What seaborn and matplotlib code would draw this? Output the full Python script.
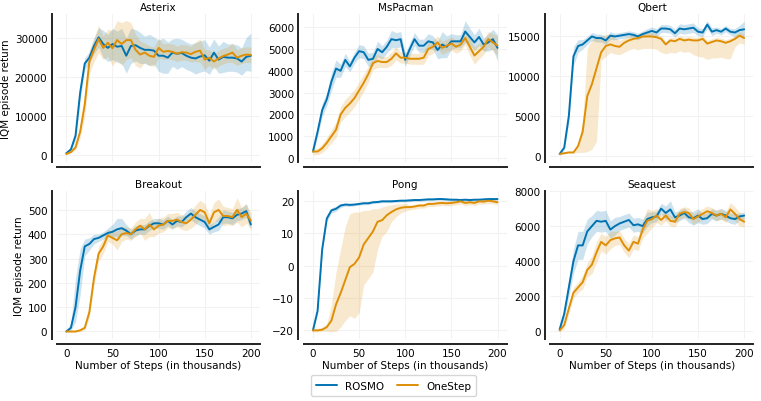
import numpy as np
import pandas as pd
import matplotlib
matplotlib.use("Agg")
import matplotlib.pyplot as plt
import seaborn as sns

steps = list(range(0, 201, 5))
methods = ["ROSMO", "OneStep"]
games = ["Asterix", "MsPacman", "Qbert", "Breakout", "Pong", "Seaquest"]

# ---------------- Asterix ----------------
asterix_rosmo = [500, 1500, 5000, 16000, 23500, 25000, 28000, 30200, 28500, 27500,
                 28500, 27800, 28000, 25500, 28000, 28200, 27500, 27000, 27000, 26800,
                 25500, 25500, 25000, 26300, 26000, 26200, 25500, 25000, 24800, 25300,
                 25600, 24200, 26300, 24500, 25200, 25000, 25000, 24800, 24000, 25200, 25500]
asterix_rosmo_dn = [200, 500, 1200, 2000, 1500, 1500, 2000, 2500, 3500, 3500,
                    4000, 4000, 4500, 4500, 4500, 4000, 4000, 3500, 4000, 3500,
                    4000, 4500, 4000, 3500, 4000, 3500, 3500, 3500, 4000, 4000,
                    4000, 3500, 3500, 3500, 4000, 3500, 3500, 3500, 3500, 3500, 4000]
asterix_rosmo_up = [200, 500, 1200, 2000, 1500, 1500, 2000, 2500, 3500, 3500,
                    4000, 4000, 4500, 4500, 4500, 4000, 4000, 3500, 4000, 3500,
                    4000, 4500, 4000, 3500, 4000, 3500, 3500, 3500, 4000, 4000,
                    4000, 3500, 3500, 3500, 4000, 3500, 3500, 3500, 3500, 5000, 5800]
asterix_onestep = [300, 800, 2000, 6000, 13000, 24000, 27000, 29800, 27500, 28800,
                   27400, 29500, 28500, 29500, 29500, 27000, 25800, 26300, 25500, 25200,
                   27500, 26500, 26700, 26500, 26000, 26400, 26300, 25900, 26500, 26800,
                   24500, 25000, 24000, 24800, 25400, 25800, 26300, 25000, 25500, 25800, 25700]
asterix_onestep_err = [200, 300, 700, 1500, 3000, 3000, 3000, 3500, 3000, 3500,
                       4500, 5000, 5500, 5000, 4500, 4000, 3500, 2500, 2500, 2500,
                       2500, 2000, 2000, 2000, 2000, 2000, 2000, 2000, 2500, 3000,
                       2500, 2000, 2000, 2000, 2000, 2000, 2500, 2000, 2000, 2000, 2000]

# ---------------- MsPacman ----------------
mspacman_rosmo = [300, 1200, 2200, 2700, 3500, 4100, 4000, 4500, 4200, 4600,
                  4900, 4850, 4500, 4550, 5000, 4850, 5100, 5450, 5400, 5450,
                  4500, 5000, 5450, 5150, 5150, 5350, 5300, 4950, 5200, 5100,
                  5350, 5350, 5350, 5800, 5550, 5300, 5550, 5200, 5300, 5450, 5050]
mspacman_rosmo_err = [100, 200, 300, 300, 400, 400, 300, 300, 250, 250,
                      300, 300, 300, 300, 350, 300, 300, 400, 350, 350,
                      300, 300, 300, 300, 300, 350, 300, 400, 600, 500,
                      350, 300, 300, 500, 400, 350, 400, 300, 400, 450, 600]
mspacman_onestep = [300, 300, 450, 700, 1000, 1300, 2000, 2300, 2500, 2750,
                    3100, 3450, 3850, 4350, 4450, 4400, 4400, 4550, 4800, 4600,
                    4600, 4550, 4550, 4550, 4600, 5000, 5100, 5300, 5050, 5150,
                    5250, 5100, 5200, 5500, 5100, 4700, 4900, 5100, 5450, 5300, 5150]
mspacman_onestep_err = [150, 150, 200, 250, 300, 350, 350, 400, 400, 400,
                        400, 400, 350, 300, 300, 250, 250, 300, 300, 250,
                        250, 250, 250, 250, 300, 300, 300, 300, 300, 300,
                        300, 300, 300, 300, 400, 400, 350, 350, 350, 400, 450]

# ---------------- Qbert ----------------
qbert_rosmo = [200, 1000, 5000, 12500, 13800, 14000, 14500, 15000, 14800, 14800,
               14500, 15100, 15000, 15100, 15200, 15300, 15200, 15000, 15300, 15500,
               15700, 15500, 16000, 16000, 15900, 15400, 16000, 15900, 16000, 16100,
               15600, 15500, 16500, 15600, 15800, 15600, 16000, 15600, 15500, 15800, 15900]
qbert_rosmo_err = [100, 300, 800, 1200, 800, 600, 500, 500, 500, 500,
                   500, 500, 400, 400, 400, 400, 400, 400, 400, 500,
                   500, 500, 500, 500, 500, 500, 600, 600, 600, 600,
                   500, 500, 500, 500, 400, 400, 400, 400, 500, 600, 1000]
qbert_onestep = [200, 300, 400, 400, 1200, 3000, 7500, 9000, 11000, 13000,
                 13800, 14000, 13800, 13700, 14200, 14500, 14700, 14800, 15000, 15000,
                 15000, 14900, 14700, 14000, 14500, 14400, 14700, 14500, 14600, 14500,
                 14500, 14700, 14100, 14300, 14500, 14400, 14200, 14400, 14700, 15100, 14800]
qbert_onestep_dn = [100, 100, 100, 100, 800, 2600, 7000, 8200, 9200, 1000,
                    1300, 1000, 1000, 1000, 1200, 1200, 1200, 1500, 1500, 1500,
                    1500, 1500, 1700, 1200, 1500, 1500, 1500, 1500, 1500, 1800,
                    2000, 2300, 2000, 2000, 2200, 2000, 2000, 2200, 1000, 900, 800]
qbert_onestep_up = [100, 100, 100, 100, 300, 1500, 6000, 5500, 4000, 2000,
                    1500, 1200, 1000, 800, 600, 500, 500, 500, 500, 500,
                    500, 400, 400, 400, 400, 400, 400, 400, 400, 400,
                    400, 400, 400, 400, 400, 400, 400, 400, 400, 500, 500]

# ---------------- Breakout ----------------
breakout_rosmo = [0, 15, 100, 250, 350, 360, 380, 385, 395, 405,
                  410, 420, 425, 415, 400, 415, 420, 420, 435, 445,
                  445, 440, 455, 440, 455, 450, 470, 485, 470, 460,
                  450, 420, 430, 440, 470, 470, 465, 480, 485, 495, 440]
breakout_rosmo_dn = [0, 10, 60, 100, 40, 25, 20, 15, 15, 15,
                     20, 30, 30, 20, 20, 20, 20, 20, 20, 20,
                     20, 20, 20, 20, 20, 20, 25, 25, 25, 25,
                     25, 20, 20, 25, 25, 25, 25, 25, 25, 25, 20]
breakout_rosmo_up = [5, 20, 120, 90, 30, 25, 20, 15, 15, 20,
                     30, 45, 40, 25, 20, 20, 20, 20, 20, 20,
                     20, 20, 20, 20, 20, 25, 25, 25, 25, 25,
                     25, 20, 20, 30, 30, 25, 25, 25, 25, 30, 25]
breakout_onestep = [0, 0, 0, 5, 15, 80, 220, 320, 350, 395,
                    385, 375, 400, 405, 400, 420, 435, 420, 440, 420,
                    435, 440, 455, 455, 460, 450, 445, 460, 480, 500,
                    490, 445, 490, 500, 475, 475, 470, 500, 470, 485, 455]
breakout_onestep_err = [2, 2, 2, 5, 10, 20, 30, 30, 30, 25,
                        25, 40, 30, 25, 25, 30, 30, 45, 50, 30,
                        30, 30, 30, 30, 30, 30, 30, 35, 40, 40,
                        35, 35, 40, 45, 40, 35, 35, 50, 40, 40, 35]

# ---------------- Pong ----------------
pong_rosmo = [-20, -14, 5, 14.5, 17, 17.5, 18.5, 18.8, 18.7, 18.8,
              19, 19.2, 19.2, 19.5, 19.6, 19.8, 19.8, 19.8, 19.9, 20,
              20, 20.1, 20.2, 20.2, 20.3, 20.4, 20.4, 20.5, 20.5, 20.4,
              20.3, 20.3, 20.2, 20.3, 20.2, 20.3, 20.3, 20.4, 20.5, 20.5, 20.5]
pong_rosmo_err = [0.3, 0.8, 1.0, 1.0, 0.8, 0.8, 0.6, 0.5, 0.5, 0.4,
                  0.4, 0.4, 0.4, 0.4, 0.4, 0.4, 0.4, 0.4, 0.4, 0.4,
                  0.4, 0.4, 0.4, 0.4, 0.4, 0.4, 0.4, 0.4, 0.4, 0.4,
                  0.4, 0.4, 0.4, 0.4, 0.4, 0.4, 0.4, 0.4, 0.4, 0.4, 0.4]
pong_onestep = [-20, -20, -19.8, -19, -17, -12, -8.5, -4.5, -0.5, 0.5,
                2.5, 6.5, 8.5, 10.5, 13.5, 14, 15.5, 16.5, 17.3, 17.8,
                18, 18, 18.2, 18.5, 18.5, 19, 19, 19.2, 19.3, 19.2,
                19.3, 19.5, 19.8, 19.3, 19.5, 19.3, 19.8, 19.7, 20, 19.8, 19.5]
pong_onestep_dn = [0.5, 0.5, 0.5, 1.3, 3.5, 8.3, 10.5, 12.5, 15, 16.8,
                   17, 12.5, 12.5, 12.5, 8.5, 5, 5, 3, 2.3, 1.6,
                   1.2, 0.8, 0.8, 0.8, 0.8, 0.8, 0.8, 0.8, 0.8, 0.8,
                   0.8, 0.8, 0.8, 0.8, 0.8, 0.8, 0.8, 0.8, 0.8, 0.8, 0.8]
pong_onestep_up = [0.5, 0.5, 0.8, 1.0, 5, 10, 13.5, 16.5, 16.5, 16,
                   14, 10.5, 8.5, 7, 4, 4, 3, 2.2, 1.7, 1.2,
                   1.2, 0.6, 0.6, 0.6, 0.6, 0.6, 0.6, 0.6, 0.6, 0.6,
                   0.6, 0.6, 0.6, 0.6, 0.6, 0.6, 0.6, 0.6, 0.6, 0.6, 0.6]

# ---------------- Seaquest ----------------
seaquest_rosmo = [100, 1000, 2500, 4000, 4900, 4900, 5700, 6000, 6300, 6250,
                  6300, 5800, 6000, 6150, 6250, 6350, 6050, 6100, 6000, 6400,
                  6500, 6550, 7000, 6750, 6950, 6500, 6600, 6750, 6500, 6450,
                  6600, 6400, 6450, 6700, 6600, 6700, 6600, 6450, 6400, 6550, 6600]
seaquest_rosmo_err = [100, 300, 500, 700, 800, 800, 700, 600, 600, 600,
                      600, 500, 500, 400, 400, 400, 400, 400, 400, 400,
                      300, 300, 300, 400, 500, 300, 300, 300, 300, 400,
                      400, 300, 300, 300, 300, 300, 300, 300, 300, 200, 200]
seaquest_onestep = [50, 350, 1300, 2200, 2500, 2800, 3500, 3800, 4500, 5100,
                    4900, 5200, 5300, 5350, 4900, 4600, 5100, 5000, 5800, 6300,
                    6400, 6600, 6350, 6600, 6300, 6250, 6700, 6800, 6750, 6400,
                    6550, 6700, 6850, 6750, 6600, 6700, 6500, 6950, 6700, 6400, 6250]
seaquest_onestep_err = [100, 200, 300, 300, 300, 400, 400, 500, 600, 500,
                        500, 500, 400, 400, 400, 400, 400, 400, 500, 700,
                        500, 400, 300, 300, 300, 300, 300, 300, 300, 300,
                        300, 300, 300, 300, 300, 300, 300, 400, 400, 400, 300]

yticks = {
    "Asterix": [0, 10000, 20000, 30000],
    "MsPacman": [0, 1000, 2000, 3000, 4000, 5000, 6000],
    "Qbert": [0, 5000, 10000, 15000],
    "Breakout": [0, 100, 200, 300, 400, 500],
    "Pong": [-20, -10, 0, 10, 20],
    "Seaquest": [0, 2000, 4000, 6000, 8000],
}
xticks = [0, 50, 100, 150, 200]

series = {
    "Asterix": {
        "ROSMO": (asterix_rosmo, asterix_rosmo_dn, asterix_rosmo_up),
        "OneStep": (asterix_onestep, asterix_onestep_err, asterix_onestep_err)},
    "MsPacman": {
        "ROSMO": (mspacman_rosmo, mspacman_rosmo_err, mspacman_rosmo_err),
        "OneStep": (mspacman_onestep, mspacman_onestep_err, mspacman_onestep_err)},
    "Qbert": {
        "ROSMO": (qbert_rosmo, qbert_rosmo_err, qbert_rosmo_err),
        "OneStep": (qbert_onestep, qbert_onestep_dn, qbert_onestep_up)},
    "Breakout": {
        "ROSMO": (breakout_rosmo, breakout_rosmo_dn, breakout_rosmo_up),
        "OneStep": (breakout_onestep, breakout_onestep_err, breakout_onestep_err)},
    "Pong": {
        "ROSMO": (pong_rosmo, pong_rosmo_err, pong_rosmo_err),
        "OneStep": (pong_onestep, pong_onestep_dn, pong_onestep_up)},
    "Seaquest": {
        "ROSMO": (seaquest_rosmo, seaquest_rosmo_err, seaquest_rosmo_err),
        "OneStep": (seaquest_onestep, seaquest_onestep_err, seaquest_onestep_err)},
}

sns.set_theme(style="white")
plt.rcParams["font.family"] = ["DejaVu Sans"]
plt.rcParams["text.color"] = "black"
plt.rcParams["axes.labelcolor"] = "black"
plt.rcParams["xtick.color"] = "black"
plt.rcParams["ytick.color"] = "black"
palette = {"ROSMO": "#0173b2", "OneStep": "#de8f05"}
FS = 7.5

fig, axes = plt.subplots(2, 3, figsize=(7.61, 4.02), dpi=100)
fig.subplots_adjust(left=0.075, right=0.99, top=0.963, bottom=0.155,
                    wspace=0.215, hspace=0.2)

for idx, (game, ax) in enumerate(zip(games, axes.flat)):
    rows = []
    for m in methods:
        mean, dn, up = series[game][m]
        for s, v in zip(steps, mean):
            rows.append({"step": s, "value": v, "method": m})
    df = pd.DataFrame(rows)
    for m in methods:
        mean, dn, up = series[game][m]
        mean = np.asarray(mean, float)
        ax.fill_between(steps, mean - np.asarray(dn, float), mean + np.asarray(up, float),
                        color=palette[m], alpha=0.2, linewidth=0)
    sns.lineplot(data=df, x="step", y="value", hue="method", hue_order=methods,
                 palette=palette, linewidth=1.4, ax=ax, legend=(idx == 0))
    ax.set_title(game, fontsize=FS, pad=3, color="black")
    ax.set_xticks(xticks)
    ax.set_yticks(yticks[game])
    ax.grid(True, color="#f2f2f2", linewidth=0.8)
    ax.set_axisbelow(True)
    ax.tick_params(axis="both", labelsize=FS, length=0, pad=3, colors="black")
    sns.despine(ax=ax, offset=4)
    for sp in ("left", "bottom"):
        ax.spines[sp].set_color("#222222")
        ax.spines[sp].set_linewidth(1.4)
    ax.set_xlabel("Number of Steps (in thousands)" if idx >= 3 else "", fontsize=FS, labelpad=1)
    ax.set_ylabel("IQM episode return" if idx % 3 == 0 else "", fontsize=FS, labelpad=3)
    if idx < 3:
        ax.tick_params(labelbottom=False)

handles, labels = axes.flat[0].get_legend_handles_labels()
axes.flat[0].get_legend().remove()
fig.legend(handles, labels, loc="lower center", ncol=2, bbox_to_anchor=(0.517, 0.0),
           fontsize=FS, frameon=True, edgecolor="#cccccc", handlelength=2.0,
           columnspacing=1.2, borderpad=0.5)

fig.savefig("out.png", dpi=100)
